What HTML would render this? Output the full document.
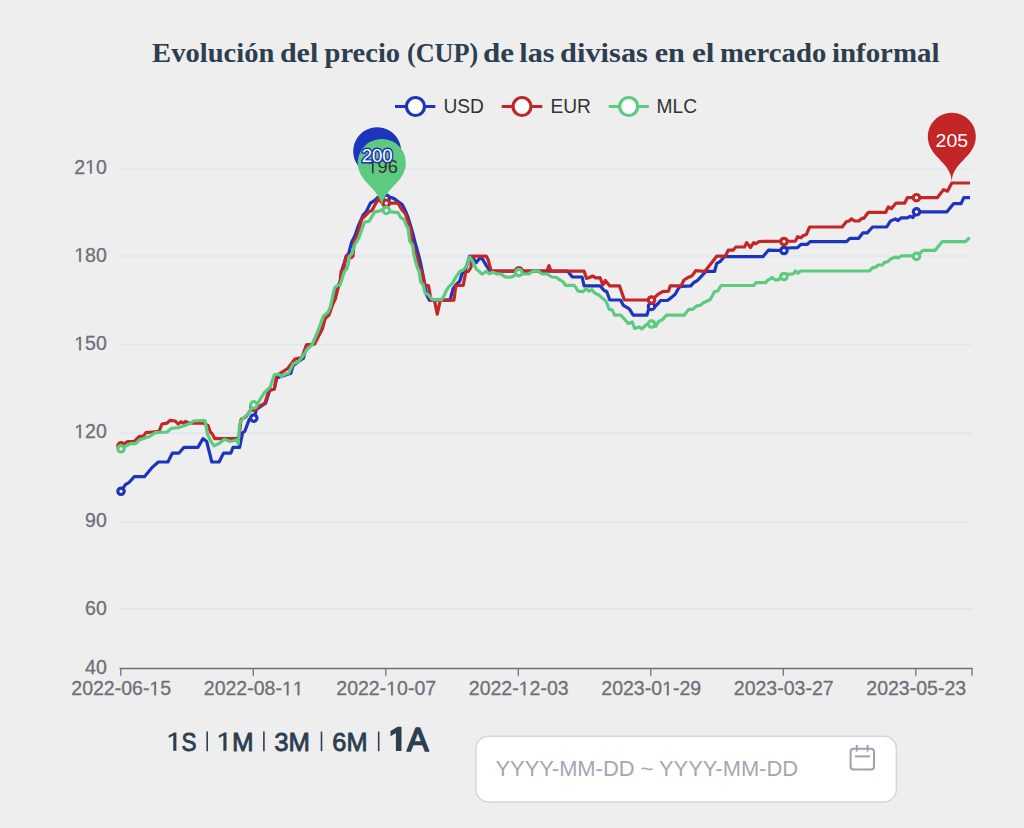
<!DOCTYPE html>
<html><head><meta charset="utf-8"><style>
html,body{margin:0;padding:0;background:#eeeeee;}
body{width:1024px;height:828px;position:relative;overflow:hidden;font-family:"Liberation Sans",sans-serif;}
svg{position:absolute;left:0;top:0;}
</style></head><body>
<svg width="1024" height="828" viewBox="0 0 1024 828">
<g font-family="Liberation Serif" font-weight="bold" font-size="27.5" fill="#2c3e50"><text x="152.1" y="61.6" textLength="122.2" lengthAdjust="spacingAndGlyphs">Evolución</text><text x="279.9" y="61.6" textLength="38.4" lengthAdjust="spacingAndGlyphs">del</text><text x="324.5" y="61.6" textLength="75.6" lengthAdjust="spacingAndGlyphs">precio</text><text x="406.9" y="61.6" textLength="71.4" lengthAdjust="spacingAndGlyphs">(CUP)</text><text x="482.9" y="61.6" textLength="31.0" lengthAdjust="spacingAndGlyphs">de</text><text x="519.3" y="61.6" textLength="35.2" lengthAdjust="spacingAndGlyphs">las</text><text x="560.1" y="61.6" textLength="87.8" lengthAdjust="spacingAndGlyphs">divisas</text><text x="654.7" y="61.6" textLength="30.2" lengthAdjust="spacingAndGlyphs">en</text><text x="691.9" y="61.6" textLength="22.6" lengthAdjust="spacingAndGlyphs">el</text><text x="719.9" y="61.6" textLength="106.4" lengthAdjust="spacingAndGlyphs">mercado</text><text x="831.9" y="61.6" textLength="107.6" lengthAdjust="spacingAndGlyphs">informal</text></g>
<g font-family="Liberation Sans" font-size="20.2" fill="#333">
<line x1="395" x2="435.3" y1="106.5" y2="106.5" stroke="#1d34bd" stroke-width="3.2"/>
<circle cx="415.5" cy="106.5" r="9" fill="#fff" stroke="#1d34bd" stroke-width="3.2"/>
<text x="443.4" y="112.8" textLength="40.5" lengthAdjust="spacingAndGlyphs">USD</text>
<line x1="501.7" x2="542.3" y1="106.5" y2="106.5" stroke="#c32626" stroke-width="3.2"/>
<circle cx="522" cy="106.5" r="9" fill="#fff" stroke="#c32626" stroke-width="3.2"/>
<text x="550.4" y="112.8" textLength="40.5" lengthAdjust="spacingAndGlyphs">EUR</text>
<line x1="608.7" x2="648.9" y1="106.5" y2="106.5" stroke="#5ccb7f" stroke-width="3.2"/>
<circle cx="628.7" cy="106.5" r="9" fill="#fff" stroke="#5ccb7f" stroke-width="3.2"/>
<text x="656.6" y="112.8" textLength="40.5" lengthAdjust="spacingAndGlyphs">MLC</text>
</g>
<line x1="119.5" x2="972" y1="169.06" y2="169.06" stroke="#e0e6f1" stroke-width="1.6"/>
<line x1="119.5" x2="972" y1="256.00" y2="256.00" stroke="#e0e6f1" stroke-width="1.6"/>
<line x1="119.5" x2="972" y1="344.70" y2="344.70" stroke="#e0e6f1" stroke-width="1.6"/>
<line x1="119.5" x2="972" y1="433.10" y2="433.10" stroke="#e0e6f1" stroke-width="1.6"/>
<line x1="119.5" x2="972" y1="522.00" y2="522.00" stroke="#e0e6f1" stroke-width="1.6"/>
<line x1="119.5" x2="972" y1="608.90" y2="608.90" stroke="#e0e6f1" stroke-width="1.6"/>

<line x1="119.5" x2="972.6" y1="668.5" y2="668.5" stroke="#6e7079" stroke-width="1.3"/>
<line x1="120.8" x2="120.8" y1="668.5" y2="675.8" stroke="#6e7079" stroke-width="1.3"/>
<line x1="253.3" x2="253.3" y1="668.5" y2="675.8" stroke="#6e7079" stroke-width="1.3"/>
<line x1="385.8" x2="385.8" y1="668.5" y2="675.8" stroke="#6e7079" stroke-width="1.3"/>
<line x1="518.3" x2="518.3" y1="668.5" y2="675.8" stroke="#6e7079" stroke-width="1.3"/>
<line x1="650.8" x2="650.8" y1="668.5" y2="675.8" stroke="#6e7079" stroke-width="1.3"/>
<line x1="783.3" x2="783.3" y1="668.5" y2="675.8" stroke="#6e7079" stroke-width="1.3"/>
<line x1="915.8" x2="915.8" y1="668.5" y2="675.8" stroke="#6e7079" stroke-width="1.3"/>
<line x1="972.1" x2="972.1" y1="668.5" y2="675.8" stroke="#6e7079" stroke-width="1.3"/>

<g font-family="Liberation Sans" font-size="19.5" fill="#6e7079" stroke="#6e7079" stroke-width="0.3">
<text x="85.11" y="673.50" text-anchor="start" >40</text>
<text x="85.11" y="614.70" text-anchor="start" >60</text>
<text x="85.11" y="526.80" text-anchor="start" >90</text>
<text x="74.27" y="438.10" text-anchor="start" > 20</text><path d="M515 0V1237L197 1010V1180L530 1409H696V0Z" transform="translate(74.27 438.10) scale(0.00952 -0.00952)" vector-effect="non-scaling-stroke"/>
<text x="74.27" y="350.30" text-anchor="start" > 50</text><path d="M515 0V1237L197 1010V1180L530 1409H696V0Z" transform="translate(74.27 350.30) scale(0.00952 -0.00952)" vector-effect="non-scaling-stroke"/>
<text x="74.27" y="261.70" text-anchor="start" > 80</text><path d="M515 0V1237L197 1010V1180L530 1409H696V0Z" transform="translate(74.27 261.70) scale(0.00952 -0.00952)" vector-effect="non-scaling-stroke"/>
<text x="74.27" y="173.60" text-anchor="start" >2 0</text><path d="M515 0V1237L197 1010V1180L530 1409H696V0Z" transform="translate(85.11 173.60) scale(0.00952 -0.00952)" vector-effect="non-scaling-stroke"/>

<text x="71.33" y="695.20" text-anchor="start" >2022-06- 5</text><path d="M515 0V1237L197 1010V1180L530 1409H696V0Z" transform="translate(149.38 695.20) scale(0.00952 -0.00952)" vector-effect="non-scaling-stroke"/>
<text x="203.83" y="695.20" text-anchor="start" >2022-08-  </text><path d="M515 0V1237L197 1010V1180L530 1409H696V0Z" transform="translate(281.88 695.20) scale(0.00952 -0.00952)" vector-effect="non-scaling-stroke"/><path d="M515 0V1237L197 1010V1180L530 1409H696V0Z" transform="translate(292.73 695.20) scale(0.00952 -0.00952)" vector-effect="non-scaling-stroke"/>
<text x="336.33" y="695.20" text-anchor="start" >2022- 0-07</text><path d="M515 0V1237L197 1010V1180L530 1409H696V0Z" transform="translate(386.20 695.20) scale(0.00952 -0.00952)" vector-effect="non-scaling-stroke"/>
<text x="468.83" y="695.20" text-anchor="start" >2022- 2-03</text><path d="M515 0V1237L197 1010V1180L530 1409H696V0Z" transform="translate(518.70 695.20) scale(0.00952 -0.00952)" vector-effect="non-scaling-stroke"/>
<text x="601.33" y="695.20" text-anchor="start" >2023-0 -29</text><path d="M515 0V1237L197 1010V1180L530 1409H696V0Z" transform="translate(662.04 695.20) scale(0.00952 -0.00952)" vector-effect="non-scaling-stroke"/>
<text x="733.83" y="695.20" text-anchor="start" >2023-03-27</text>
<text x="866.33" y="695.20" text-anchor="start" >2023-05-23</text>

</g>
<polyline points="121.0,491.3 125.4,484.7 129,482.5 134.2,476.7 144.4,476.7 151.7,467.9 158.3,462 167.9,462 172.3,453.2 178.8,453.2 184,447.4 197.9,447.4 203,438.6 206.7,441.5 211.8,462 219.1,462 223.5,453.2 230.8,453.2 233,447.4 239.6,447.4 242.6,432.7 244.8,431.3 249.2,419.5 254.3,418.1 256.3,409.4 265.7,403.1 269.6,390.5 274.3,389 276.7,378 290.8,373.2 293.2,365.4 303.4,358.3 306.5,345 312.5,344.5 318,332 322.5,320 326,316 329.5,312 333,300 338,286 341,280 342.1,269.5 344.6,261.8 346.3,255.9 348.8,253.4 350.1,248.1 351.6,242.3 355.2,235.1 358.1,226.4 363.2,214.8 366.1,211.9 370.4,203.2 374.8,200.3 377.7,197.5 386,197.5 389,197 392.2,197.8 395.1,199.2 398,201.7 402.3,204.6 405.2,210.4 408.1,217.7 412.5,232.2 415.4,243.8 418.3,253.9 421,265 424,280 426.6,294.7 429.5,300.2 450,300.2 453,288.8 455.9,284.9 459.8,281 461.8,274.2 465,271 469.6,256.1 472.5,257.6 476.4,262.5 479.3,258.6 482.3,258.6 486.2,265.4 490.1,271.1 567.5,271.1 572.4,277 582.1,277 584.1,285.8 600,285.8 603.9,290.3 606.8,291.7 609.8,300 620.5,300 623.4,305.4 629.3,308.8 633.2,315.2 646.9,315.2 648.8,308.8 651.8,306.4 655,306.5 658.6,303 660.5,300.5 667.4,300.5 671.3,297.6 675.2,294.2 679.1,287.3 682,286.4 690.8,285.9 693.8,282.5 696.7,281 698.3,279.6 705.9,271.4 714.6,271.4 716.7,263.3 720,261.6 724.3,256.7 762.9,256.7 768.4,250.2 784.1,250.5 787.4,248 797.6,247.6 800.9,244.3 807.4,244.3 810.1,241.6 846.5,241.6 849.8,238.4 858.5,238.4 862.8,232.9 867.2,232.9 872.6,227 886.7,227 890.4,221.1 895.3,218.9 898,220.5 901.3,217.8 907.8,217.8 910,216.2 913,217.5 916.5,211.8 947,211.8 953.5,203.7 961.1,203.7 963.8,197.7 970,197.7" fill="none" stroke="#1d34bd" stroke-width="3.2" stroke-linejoin="round" stroke-linecap="butt"/>
<circle cx="121.0" cy="491.3" r="3.2" fill="#fff" stroke="#1d34bd" stroke-width="3.2"/>
<circle cx="253.8" cy="418.1" r="3.2" fill="#fff" stroke="#1d34bd" stroke-width="3.2"/>
<circle cx="386.3" cy="198.4" r="3.2" fill="#fff" stroke="#1d34bd" stroke-width="3.2"/>
<circle cx="518.9" cy="271.2" r="3.2" fill="#fff" stroke="#1d34bd" stroke-width="3.2"/>
<circle cx="651.5" cy="306.4" r="3.2" fill="#fff" stroke="#1d34bd" stroke-width="3.2"/>
<circle cx="784.0" cy="250.5" r="3.2" fill="#fff" stroke="#1d34bd" stroke-width="3.2"/>
<circle cx="916.5" cy="211.8" r="3.2" fill="#fff" stroke="#1d34bd" stroke-width="3.2"/>
<polyline points="121,445.9 127.6,441.5 134.2,441.5 139.3,436.4 143,436.4 145.9,432.7 152.5,432 159,431.3 162,424 167.1,423.2 170,420.3 175.2,421 178.1,424 181,421.7 183.5,423.5 185.5,421.5 189,423.2 203.7,423.2 208.1,425.4 210.3,432 212.5,434.2 214.7,438.6 236,438.6 238.9,437.1 241.1,419.5 246.2,416.6 251.4,409.3 254.3,407.1 256.3,407.8 264.9,403.1 268.8,390.5 274.3,389 276.7,375.6 287.7,368.5 294.8,359.1 301.8,357.5 306.5,345 314.4,344.2 322.2,329.3 325.2,318.5 329,315.1 332.8,304.1 335.3,299.1 337.8,288.9 340,282.1 341.2,271.2 343.8,268.6 345.9,256.8 348.8,255.1 351.4,257.6 353.1,255.9 354,242.3 357.4,235.1 361.7,219.1 366.1,214.8 369,211.9 371.9,210.4 378.4,198.8 383.5,204.6 386.4,203.2 398,203.2 402.3,210.4 405.2,213.3 411,230.7 412,241 416.8,256.6 419.8,269.3 421.7,270.3 424.6,284.9 428.6,285.9 431,300.2 434.4,300.2 437.3,314.2 440.3,300.2 453.9,300.2 455.9,285.4 463.2,285.4 465.7,272.2 468.6,271.3 471,267.3 471.5,256.1 486.2,256.1 488.1,259.5 491.1,271.1 514.8,271.1 547,271.1 549,265.7 550.9,271.1 584.1,271.1 586.5,278.4 589.5,277.5 592.5,276 596,278 600,277.6 602.9,284.9 605.4,280.5 609.8,285.9 619.5,285.9 624.4,300 651.8,300 657.6,294.7 662.5,291.7 668.4,291.2 670.3,285.9 681.1,285.9 684,280 687.9,277.6 691.8,276.1 695.7,270.7 704.8,271.4 716.7,256.2 725.4,256.2 728.2,250.2 733,250.2 735.8,247 744.5,247 746.6,242.6 750.4,247.5 753.7,242.6 755.9,243.7 759.1,241.5 795.4,241.1 797.6,236.7 800.9,237.8 803,235.7 806.3,234.6 809.6,227 842.2,227 846.5,221.5 849.2,221 851.4,218.8 854.7,221 859,221 861.7,218.3 863.9,218.3 868.3,212.3 885.7,212.3 888.3,207 891.5,208.6 895.9,203.2 904.6,203.2 907.3,197.7 937.2,197.7 943.7,189.6 947.5,191.2 951.8,183 970,183" fill="none" stroke="#c32626" stroke-width="3.2" stroke-linejoin="round" stroke-linecap="butt"/>
<circle cx="121.0" cy="445.9" r="3.2" fill="#fff" stroke="#c32626" stroke-width="3.2"/>
<circle cx="253.8" cy="407.1" r="3.2" fill="#fff" stroke="#c32626" stroke-width="3.2"/>
<circle cx="386.3" cy="203.2" r="3.2" fill="#fff" stroke="#c32626" stroke-width="3.2"/>
<circle cx="518.9" cy="271.0" r="3.2" fill="#fff" stroke="#c32626" stroke-width="3.2"/>
<circle cx="651.5" cy="300.0" r="3.2" fill="#fff" stroke="#c32626" stroke-width="3.2"/>
<circle cx="784.0" cy="241.5" r="3.2" fill="#fff" stroke="#c32626" stroke-width="3.2"/>
<circle cx="916.5" cy="197.7" r="3.2" fill="#fff" stroke="#c32626" stroke-width="3.2"/>
<polyline points="121,448.8 126.1,445.9 130.5,443.7 135.6,443.7 139.3,440 145.2,437.9 149.5,436.4 155.4,432.7 167.1,432 171.5,428.3 178.8,427.6 184.7,425.4 190.6,423.2 193.5,421 203.7,420.3 205.2,421 207.4,434.2 211.1,441.5 214,445.9 216.9,444.5 219.9,443 224.3,439.3 230.1,441.5 233.8,440.8 236.5,440 238.2,443.7 239.6,424 242.6,418.8 247.7,414.4 253.5,404.9 257.9,403.1 264.1,392.9 268.1,389 270.4,386.6 274.3,374.8 278.3,374 281.4,376.4 283.8,374.8 288.5,373.2 293.2,363.8 298.7,361.5 303.4,355.2 307.3,348.9 312,345 317.5,332.4 322.2,319.4 323.5,316 327.7,312.6 330.2,307.5 334.5,288.1 337,285.5 340,285.1 342.1,278.8 344.2,272 347.1,268.2 348.4,263.5 349.3,256.8 352.2,253.4 354.5,245.2 358.8,238 364.6,222 369,221.3 374.8,211.9 379.1,211.2 383.5,209 386.4,210.4 390.7,211.9 398,212.6 400.9,217.7 403.8,219.1 406.7,226.4 408.1,227.8 409.6,240.9 412.5,245.2 413.9,254.6 416.8,266.4 419.3,272.2 420.7,282 423.2,284.9 425.1,293.2 427.6,294.2 432.5,299.6 441.3,300 443.7,296.6 446.1,290.8 449.1,286.4 452,283.9 455.9,277.1 459.8,271.3 462.7,270.3 465.7,267.3 469.6,257.1 472.5,261 476.4,269.3 478.4,270.8 482.3,274.2 486.2,271.3 489.1,273.7 493,272.2 495.9,273.7 500.8,274.2 505.7,277.1 511.8,277 519.2,272.6 522.6,274 528.4,274 533.3,271.1 538.2,271.1 542.1,274 547,274 551.9,277 556.8,277.5 559.7,279.9 562.6,281.4 565.5,285.3 574.3,285.3 578.2,291.1 583.1,291.6 586.1,288.7 589,291.1 591.9,289.7 594.8,293.1 598.8,295 602.9,298.6 605.9,301 609.3,309.3 612.2,309.8 614.6,315.2 621,315.2 628.3,323.5 632.2,322 634.7,328.4 639.1,326.9 642,328.8 646.4,324.5 651.3,324 655.7,326.4 658.6,321.5 662.5,319.6 666.4,315.2 684,315.2 688.9,309.3 692.8,309.3 696.7,305.9 700,305.4 703,303 710.2,299.5 714.6,291.5 717.8,291 721.1,285.5 753.7,285.5 755.9,282.6 765.7,282.6 767.8,280.1 771.1,278.5 772.2,277.4 775.4,280.1 778.7,279.6 782,275.8 784.1,276.5 788.5,274.1 791.7,274.1 793.3,273.7 795.4,271 798.2,273.2 800.3,271 869.3,271 872.6,267.7 875.9,267.2 878,265 882.4,265 884.6,262.3 887.8,261.7 890.4,259.1 895.9,257 898,258 901.3,255.9 914.3,255.9 916.5,256.4 923,250.4 935,250.4 942.1,241.7 965.4,241.7 968.7,238.5 970,238.5" fill="none" stroke="#5ccb7f" stroke-width="3.2" stroke-linejoin="round" stroke-linecap="butt"/>
<circle cx="121.0" cy="448.8" r="3.2" fill="#fff" stroke="#5ccb7f" stroke-width="3.2"/>
<circle cx="253.8" cy="404.9" r="3.2" fill="#fff" stroke="#5ccb7f" stroke-width="3.2"/>
<circle cx="386.3" cy="210.4" r="3.2" fill="#fff" stroke="#5ccb7f" stroke-width="3.2"/>
<circle cx="518.9" cy="272.6" r="3.2" fill="#fff" stroke="#5ccb7f" stroke-width="3.2"/>
<circle cx="651.5" cy="324.0" r="3.2" fill="#fff" stroke="#5ccb7f" stroke-width="3.2"/>
<circle cx="784.0" cy="276.5" r="3.2" fill="#fff" stroke="#5ccb7f" stroke-width="3.2"/>
<circle cx="916.5" cy="256.4" r="3.2" fill="#fff" stroke="#5ccb7f" stroke-width="3.2"/>

<path d="M355.52 161.57 A24.00 24.00 0 1 1 398.88 161.57 C392.71 174.58 377.20 180.20 377.20 197.00 C377.20 180.20 361.69 174.58 355.52 161.57 Z" fill="#1d34bd"/><path d="M930.12 146.97 A24.00 24.00 0 1 1 973.48 146.97 C967.31 159.98 951.80 165.60 951.80 182.40 C951.80 165.60 936.29 159.98 930.12 146.97 Z" fill="#c32626"/><path d="M360.12 173.17 A24.00 24.00 0 1 1 403.48 173.17 C397.31 186.18 381.80 191.80 381.80 208.60 C381.80 191.80 366.29 186.18 360.12 173.17 Z" fill="#5ccb7f"/>
<g font-family="Liberation Sans" font-size="17.8" text-anchor="middle">
<text x="367.35" y="173.20" text-anchor="start" textLength="30.5" lengthAdjust="spacingAndGlyphs" fill="#333"> 96</text><path d="M515 0V1237L197 1010V1180L530 1409H696V0Z" transform="translate(367.35 173.20) scale(0.00893 -0.00869)" vector-effect="non-scaling-stroke" fill="#333"/>
<text x="377.2" y="161.5" fill="#fff" stroke="#1d34bd" stroke-width="2.8" paint-order="stroke" textLength="31" lengthAdjust="spacingAndGlyphs">200</text>
<text x="951.8" y="147.2" fill="#fff" textLength="32.5" lengthAdjust="spacingAndGlyphs">205</text>
</g>
<g font-family="Liberation Sans" fill="#2c3e50" stroke="#2c3e50" stroke-width="0.85" stroke-linejoin="round">
<path d="M176.4 732.4 L174.3 732.4 L168.7 735.4 L168.7 738.0 L173.3 735.6 L173.3 750.8 L176.4 750.8 Z" fill="#2c3e50" stroke="none"/>
<text x="181.6" y="750.8" font-size="26.5" textLength="15" lengthAdjust="spacingAndGlyphs">S</text>
<path d="M226.5 732.4 L224.4 732.4 L218.8 735.4 L218.8 738.0 L223.4 735.6 L223.4 750.8 L226.5 750.8 Z" fill="#2c3e50" stroke="none"/>
<text x="231.9" y="750.8" font-size="26.5" textLength="21.6" lengthAdjust="spacingAndGlyphs">M</text>
<text x="274.2" y="750.8" font-size="26.5" textLength="35.8" lengthAdjust="spacingAndGlyphs">3M</text>
<text x="332.3" y="750.8" font-size="26.5" textLength="35.2" lengthAdjust="spacingAndGlyphs">6M</text>
<path d="M401.5 726.8 L397.7 726.8 L390.5 731.1 L390.5 736.2 L395.9 733.0 L395.9 751.0 L401.5 751.0 Z" fill="#2c3e50" stroke="none"/>
<text x="407" y="751.2" font-size="33.5" stroke-width="1.7" textLength="21.5" lengthAdjust="spacingAndGlyphs">A</text>
</g>
<g stroke="#2c3e50" stroke-width="1.6">
<line x1="207.2" x2="207.2" y1="731.6" y2="751.2"/>
<line x1="263.9" x2="263.9" y1="731.6" y2="751.2"/>
<line x1="321.5" x2="321.5" y1="731.6" y2="751.2"/>
<line x1="378.7" x2="378.7" y1="731.6" y2="751.2"/>
</g>
<rect x="475.9" y="736.3" width="420.5" height="65.7" rx="12.5" fill="#fff" stroke="#d3d6dd" stroke-width="1.5"/>
<text x="495.5" y="776.1" font-family="Liberation Sans" font-size="21.5" fill="#a2a8b3" textLength="302.5" lengthAdjust="spacingAndGlyphs">YYYY-MM-DD ~ YYYY-MM-DD</text>
<g fill="none" stroke="#9ca2ae" stroke-width="2">
<rect x="850.6" y="748.8" width="23.4" height="20.8" rx="3"/>
<line x1="856.8" x2="856.8" y1="745" y2="751.5"/>
<line x1="867.6" x2="867.6" y1="745" y2="751.5"/>
<line x1="854.9" x2="869.9" y1="756.4" y2="756.4"/>
</g>
</svg>
</body></html>
